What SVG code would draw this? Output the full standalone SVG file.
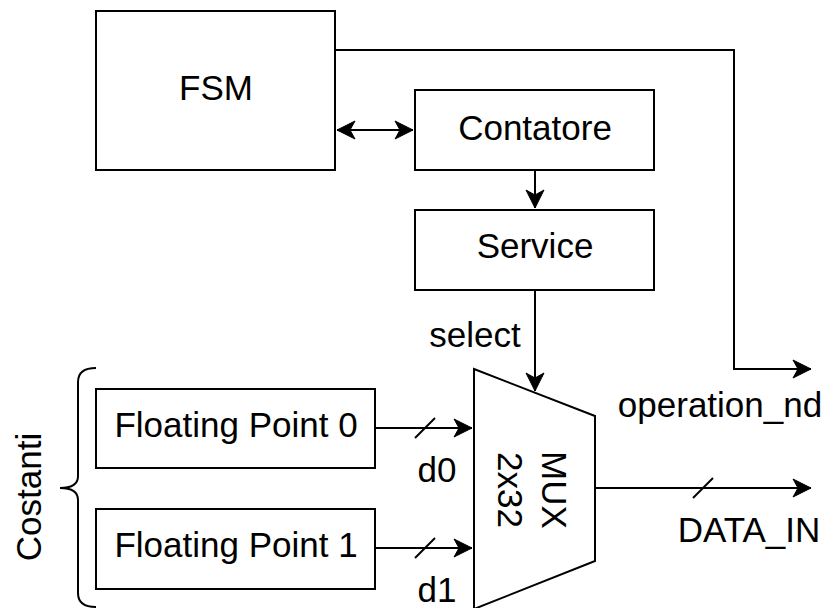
<svg xmlns="http://www.w3.org/2000/svg" width="827" height="608" viewBox="0 0 827 608">
  <style>
    .box { fill: #ffffff; stroke: #000000; stroke-width: 2; }
    .wire { fill: none; stroke: #000000; stroke-width: 2; }
    .lbl { font-family: "Liberation Sans", Arial, sans-serif; font-size: 35px; fill: #000000; text-anchor: middle; }
  </style>
  <defs>
    <marker id="arrow" markerUnits="userSpaceOnUse" markerWidth="22" markerHeight="22" viewBox="-20 -11 22 22" refX="0" refY="0" orient="auto-start-reverse">
      <path d="M0,0 L-18,-9 L-13,0 L-18,9 Z" fill="#000000" stroke="#000000" stroke-width="1"/>
    </marker>
  </defs>

  <rect width="827" height="608" fill="#ffffff"/>

  <!-- connectors -->
  <g id="connectors">
    <path class="wire" d="M335,50 H734 V369 H811" marker-end="url(#arrow)"/>
    <path class="wire" d="M337,130 H413" marker-start="url(#arrow)" marker-end="url(#arrow)"/>
    <path class="wire" d="M535,170 V208"  marker-end="url(#arrow)"/>
    <path class="wire" d="M535,290 V391" marker-end="url(#arrow)"/>
    <path class="wire" d="M375,428 H472" marker-end="url(#arrow)"/>
    <path class="wire" d="M375,548 H472" marker-end="url(#arrow)"/>
    <path class="wire" d="M595,488 H811" marker-end="url(#arrow)"/>
    <!-- bus width ticks -->
    <path class="wire" d="M415,438 L435,418"/>
    <path class="wire" d="M415,558 L435,538"/>
    <path class="wire" d="M693,498 L713,478"/>
  </g>

  <g id="fsm">
    <rect class="box" x="96" y="11" width="239" height="159"/>
    <text class="lbl" x="216" y="100">FSM</text>
  </g>

  <g id="contatore">
    <rect class="box" x="415" y="90" width="239" height="80"/>
    <text class="lbl" x="535" y="140">Contatore</text>
  </g>

  <g id="service">
    <rect class="box" x="415" y="210" width="239" height="80"/>
    <text class="lbl" x="535" y="258">Service</text>
  </g>

  <g id="fp0">
    <rect class="box" x="96" y="389" width="279" height="79"/>
    <text class="lbl" x="236" y="437">Floating Point 0</text>
  </g>

  <g id="fp1">
    <rect class="box" x="96" y="509" width="279" height="80"/>
    <text class="lbl" x="236" y="557">Floating Point 1</text>
  </g>

  <g id="mux">
    <path class="box" d="M474,369 L595,416 L595,561 L474,609 Z"/>
    <g transform="translate(535,490) rotate(90)">
      <text class="lbl" x="0" y="-7">MUX</text>
      <text class="lbl" x="0" y="37">2x32</text>
    </g>
  </g>

  <g id="costanti">
    <path class="wire" d="M96,368 Q78,368 78,382 L78,476 Q78,488 60,488 Q78,488 78,500 L78,593 Q78,607 96,607"/>
    <text class="lbl" transform="translate(41,497) rotate(-90)" x="0" y="0">Costanti</text>
  </g>

  <!-- signal labels -->
  <g id="labels">
    <text class="lbl" x="475" y="347">select</text>
    <text class="lbl" x="437" y="482">d0</text>
    <text class="lbl" x="437" y="602">d1</text>
    <text class="lbl" x="720" y="417">operation_nd</text>
    <text class="lbl" x="749" y="542">DATA_IN</text>
  </g>
</svg>
